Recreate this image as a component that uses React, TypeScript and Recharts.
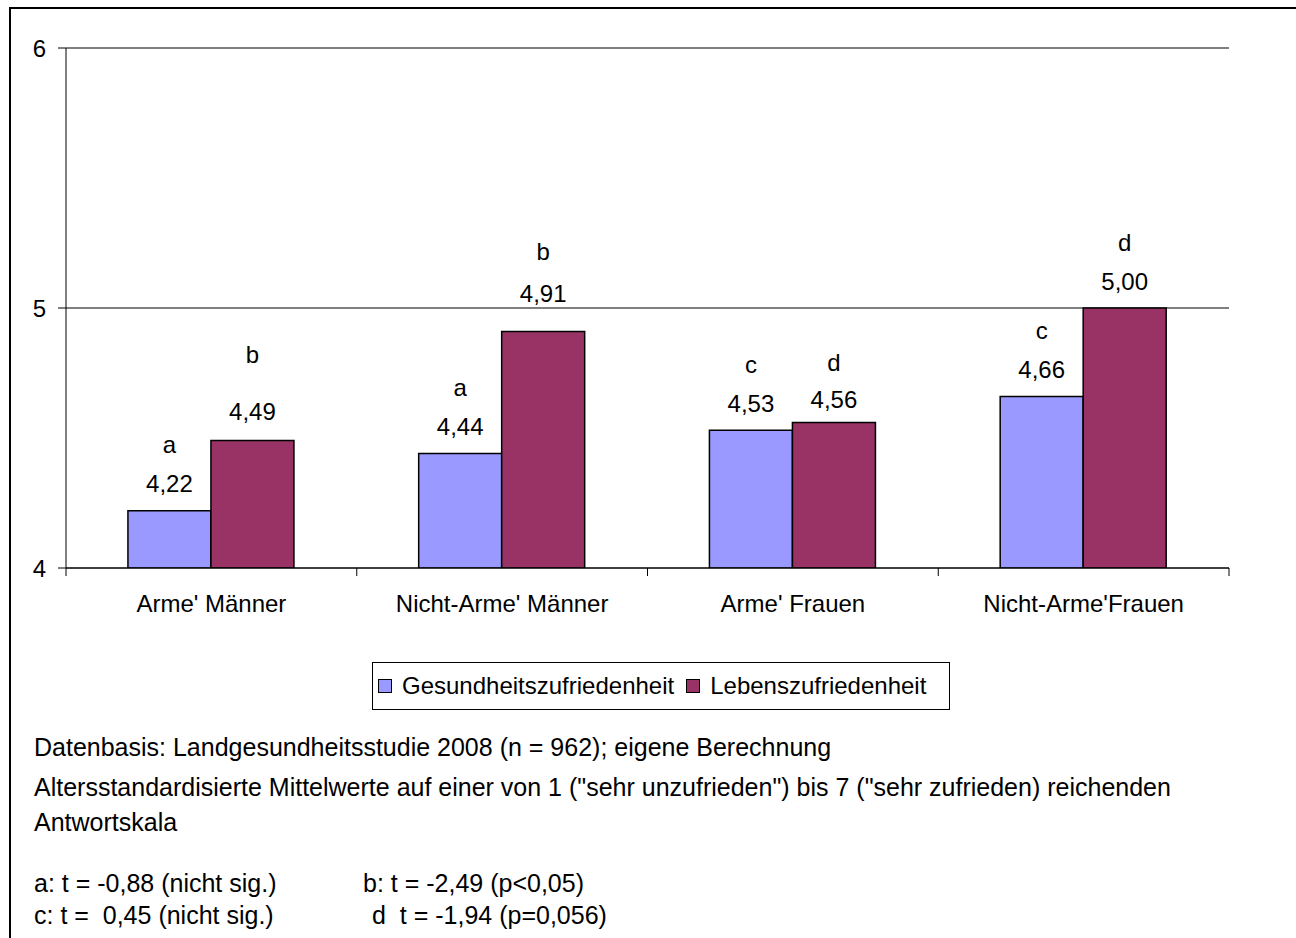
import React from "react";
import { BarChart, Bar, XAxis, YAxis, CartesianGrid, Legend, LabelList } from "recharts";

const categories = ["Arme' Männer", "Nicht-Arme' Männer", "Arme' Frauen", "Nicht-Arme'Frauen"];
const gesundheit = [4.22, 4.44, 4.53, 4.66];
const leben = [4.49, 4.91, 4.56, 5.0];
const gesundheitMarks = ["a", "a", "c", "c"];
const lebenMarks = ["b", "b", "d", "d"];
const yTicks = [4, 5, 6];

const seriesNames = ["Gesundheitszufriedenheit", "Lebenszufriedenheit"];
const seriesColors = ["#9999FF", "#993366"];

const notes = [
  "Datenbasis: Landgesundheitsstudie 2008 (n = 962); eigene Berechnung",
  'Altersstandardisierte Mittelwerte auf einer von 1 ("sehr unzufrieden") bis 7 ("sehr zufrieden) reichenden',
  "Antwortskala",
];
const testsLeft = ["a: t = -0,88 (nicht sig.)", "c: t =  0,45 (nicht sig.)"];
const testsRight = ["b: t = -2,49 (p<0,05)", "d  t = -1,94 (p=0,056)"];

const data = categories.map((name, i) => ({
  name,
  gesundheit: gesundheit[i],
  leben: leben[i],
}));

const FONT = '"Liberation Sans", Arial, sans-serif';
const W = 1296;
const H = 938;
const TOP = 48;
const LEFT_AXIS = 66;
const RIGHT_MARGIN = 67;
const X_AXIS_H = 40;
const BOTTOM_MARGIN = 330;
const PLOT_BOTTOM = H - BOTTOM_MARGIN - X_AXIS_H;
const HALF_BAND = (W - LEFT_AXIS - RIGHT_MARGIN) / categories.length / 2;

// labels sit at a fixed gap above the bar, with a few hand-placed nudges
const VALUE_GAP = 27;
const MARK_GAP = 66;
const gesundheitNudge = { value: [0, 0, 0, 0], mark: [0, 0, 0, 0] };
const lebenNudge = { value: [2, 11, -4, 0], mark: [20, 14, -6, 0] };

const fmt = (v: number) => v.toFixed(2).replace(".", ",");

// category label centred, tick marks on the band boundaries
const CategoryTick = (props: any) => {
  const { x, payload, index } = props;
  return (
    <g>
      <line x1={x - HALF_BAND} x2={x - HALF_BAND} y1={PLOT_BOTTOM} y2={PLOT_BOTTOM + 8} stroke="#000" />
      {index === categories.length - 1 && (
        <line x1={x + HALF_BAND} x2={x + HALF_BAND} y1={PLOT_BOTTOM} y2={PLOT_BOTTOM + 8} stroke="#000" />
      )}
      <text x={x} y={PLOT_BOTTOM + 44} textAnchor="middle" fontSize={24} fontFamily={FONT} fill="#000">
        {payload.value}
      </text>
    </g>
  );
};

const makeLabel = (marks: string[], nudge: { value: number[]; mark: number[] }) => (props: any) => {
  const { x, y, width, value, index } = props;
  const cx = x + width / 2;
  return (
    <g fontFamily={FONT} fontSize={24} fill="#000" textAnchor="middle">
      <text x={cx} y={y - VALUE_GAP - nudge.value[index]} dominantBaseline="central">{fmt(value)}</text>
      <text x={cx} y={y - MARK_GAP - nudge.mark[index]} dominantBaseline="central">{marks[index]}</text>
    </g>
  );
};

const LegendBox = () => (
  <div
    style={{
      position: "absolute",
      left: 372,
      top: 662,
      width: 578,
      height: 48,
      boxSizing: "border-box",
      border: "1.5px solid #000",
      display: "flex",
      alignItems: "center",
      fontFamily: FONT,
      fontSize: 24,
      color: "#000",
      whiteSpace: "nowrap",
    }}
  >
    {seriesNames.map((n, i) => (
      <span key={n} style={{ display: "flex", alignItems: "center", marginLeft: i === 0 ? 5 : 12 }}>
        <span
          style={{
            width: 14,
            height: 14,
            boxSizing: "border-box",
            background: seriesColors[i],
            border: "1.5px solid #000",
            marginRight: 10,
          }}
        />
        {n}
      </span>
    ))}
  </div>
);

export default function App() {
  const textStyle: React.CSSProperties = {
    position: "absolute",
    left: 34,
    fontFamily: FONT,
    fontSize: 25,
    color: "#000",
    whiteSpace: "pre",
    lineHeight: "28px",
  };
  return (
    <div style={{ position: "fixed", left: 0, top: 0, width: W, height: H, overflow: "hidden", background: "#fff" }}>
      <div
        style={{
          position: "absolute",
          left: 9,
          top: 7,
          width: W + 40,
          height: H + 40,
          border: "2px solid #000",
        }}
      />
      <div style={{ position: "absolute", left: 0, top: 0 }}>
        <BarChart
          width={W}
          height={H}
          data={data}
          margin={{ top: TOP, right: RIGHT_MARGIN, left: 0, bottom: BOTTOM_MARGIN }}
          barCategoryGap="21.3%"
          barGap={0}
        >
          <CartesianGrid yAxisId="l" vertical={false} stroke="#000" strokeWidth={1} />
          <XAxis
            dataKey="name"
            height={X_AXIS_H}
            axisLine={{ stroke: "#000" }}
            tickLine={false}
            tick={<CategoryTick />}
            interval={0}
          />
          <YAxis
            yAxisId="l"
            width={LEFT_AXIS}
            domain={[4, 6]}
            ticks={yTicks}
            allowDataOverflow
            tickSize={8}
            tickMargin={12}
            axisLine={{ stroke: "#000" }}
            tickLine={{ stroke: "#000" }}
            tick={{ fill: "#000", fontSize: 24, fontFamily: FONT }}
          />
          <YAxis
            yAxisId="r"
            orientation="right"
            width={0}
            domain={[4, 6]}
            tick={false}
            tickLine={false}
            axisLine={{ stroke: "#000" }}
          />
          <Legend content={() => null} />
          <Bar yAxisId="l" dataKey="gesundheit" name={seriesNames[0]} fill={seriesColors[0]} stroke="#000" strokeWidth={1.5} isAnimationActive={false}>
            <LabelList dataKey="gesundheit" content={makeLabel(gesundheitMarks, gesundheitNudge)} />
          </Bar>
          <Bar yAxisId="l" dataKey="leben" name={seriesNames[1]} fill={seriesColors[1]} stroke="#000" strokeWidth={1.5} isAnimationActive={false}>
            <LabelList dataKey="leben" content={makeLabel(lebenMarks, lebenNudge)} />
          </Bar>
        </BarChart>
      </div>
      <LegendBox />
      {notes.map((t, i) => (
        <div key={t} style={{ ...textStyle, top: [733, 773, 808][i] }}>{t}</div>
      ))}
      {testsLeft.map((t, i) => (
        <div key={t} style={{ ...textStyle, top: 869 + i * 32 }}>{t}</div>
      ))}
      {testsRight.map((t, i) => (
        <div key={t} style={{ ...textStyle, left: i === 0 ? 363 : 372, top: 869 + i * 32 }}>{t}</div>
      ))}
    </div>
  );
}
